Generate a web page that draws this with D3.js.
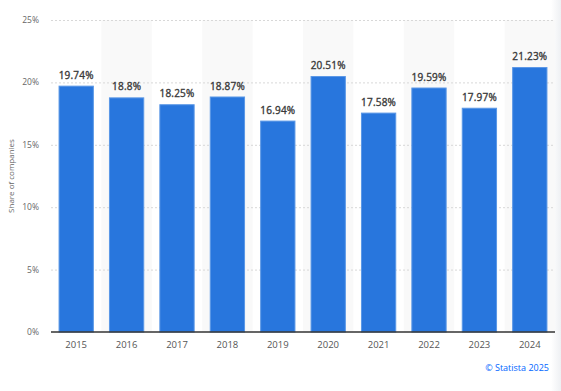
<!DOCTYPE html>
<html>
<head>
<meta charset="utf-8">
<script src="https://cdn.jsdelivr.net/npm/d3@7"></script>
<style>
  html, body { margin: 0; padding: 0; background: #fff; }
  svg { display: block; font-family: "Open Sans", "Noto Sans", sans-serif; }
</style>
</head>
<body>
<svg id="chart" width="561" height="391"></svg>
<script>
// ─── Data ─────────────────────────────────────────────────────────────────────

const years = ["2015", "2016", "2017", "2018", "2019", "2020", "2021", "2022", "2023", "2024"];
const shares = [19.74, 18.8, 18.25, 18.87, 16.94, 20.51, 17.58, 19.59, 17.97, 21.23];
const yTicks = [0, 5, 10, 15, 20, 25];

// ─── Chart ────────────────────────────────────────────────────────────────────

const svg = d3.select("#chart");
const margin = { top: 20, right: 6, bottom: 59, left: 51 };
const width = 561 - margin.left - margin.right;
const height = 391 - margin.top - margin.bottom;

// faint shadow on the right edge
const grad = svg.append("defs").append("linearGradient")
  .attr("id", "edge").attr("x1", "0").attr("x2", "1");
grad.append("stop").attr("offset", "0").attr("stop-color", "#fff");
grad.append("stop").attr("offset", "1").attr("stop-color", "#eef0f3");
svg.append("rect")
  .attr("x", 551).attr("y", 0).attr("width", 10).attr("height", 391)
  .attr("fill", "url(#edge)");

const g = svg.append("g").attr("transform", `translate(${margin.left},${margin.top})`);

const x = d3.scaleBand().domain(years).range([0, width]).paddingInner(0.3).paddingOuter(0.15);
const y = d3.scaleLinear().domain([0, 25]).range([height, 0]);

// alternating column shading
const step = x.step();
g.selectAll(".shade")
  .data(years.filter((d, i) => i % 2 === 1))
  .join("rect")
  .attr("class", "shade")
  .attr("x", d => x(d) - step * x.paddingInner() / 2)
  .attr("y", 0)
  .attr("width", step)
  .attr("height", height)
  .attr("fill", "#f9f9f9");

// grid lines
g.selectAll(".grid")
  .data(yTicks.filter(d => d > 0))
  .join("line")
  .attr("class", "grid")
  .attr("x1", 0)
  .attr("x2", width)
  .attr("y1", d => y(d) + 0.5)
  .attr("y2", d => y(d) + 0.5)
  .attr("stroke", "#d8d8d8")
  .attr("stroke-dasharray", "2,2");

// y axis labels
g.selectAll(".ytick")
  .data(yTicks)
  .join("text")
  .attr("class", "ytick")
  .attr("x", -12)
  .attr("y", d => y(d))
  .attr("dy", "0.35em")
  .attr("text-anchor", "end")
  .attr("fill", "#666")
  .attr("font-size", "8.5px")
  .text(d => d + "%");

// bars
g.selectAll(".bar")
  .data(shares)
  .join("rect")
  .attr("class", "bar")
  .attr("x", (d, i) => x(years[i]) + 0.5)
  .attr("y", d => y(d) + 0.5)
  .attr("width", x.bandwidth() - 1)
  .attr("height", d => height - y(d) - 0.5)
  .attr("fill", "#2876dd")
  .attr("stroke", "#5a97e6")
  .attr("stroke-width", 1);

// value labels
g.selectAll(".val")
  .data(shares)
  .join("text")
  .attr("class", "val")
  .attr("x", (d, i) => x(years[i]) + x.bandwidth() / 2)
  .attr("y", d => y(d) - 7)
  .attr("text-anchor", "middle")
  .attr("fill", "#3a3a3a")
  .attr("stroke", "#3a3a3a")
  .attr("stroke-width", 0.35)
  .attr("font-size", "10px")
  .attr("letter-spacing", "0.2px")
  .text(d => d + "%");

// baseline
g.append("line")
  .attr("x1", 0)
  .attr("x2", width)
  .attr("y1", height)
  .attr("y2", height)
  .attr("stroke", "#333")
  .attr("stroke-width", 1.5);

// x axis labels
g.selectAll(".xtick")
  .data(years)
  .join("text")
  .attr("class", "xtick")
  .attr("x", d => x(d) + x.bandwidth() / 2)
  .attr("y", height + 16)
  .attr("text-anchor", "middle")
  .attr("fill", "#555")
  .attr("font-size", "9.5px")
  .text(d => d);

// y axis title
svg.append("text")
  .attr("transform", `translate(14,${margin.top + height / 2}) rotate(-90)`)
  .attr("text-anchor", "middle")
  .attr("fill", "#666")
  .attr("font-size", "8px")
  .text("Share of companies");

// credit
svg.append("text")
  .attr("x", 549)
  .attr("y", 371)
  .attr("text-anchor", "end")
  .attr("fill", "#0066ff")
  .attr("font-size", "9px")
  .text("© Statista 2025");
</script>
</body>
</html>
